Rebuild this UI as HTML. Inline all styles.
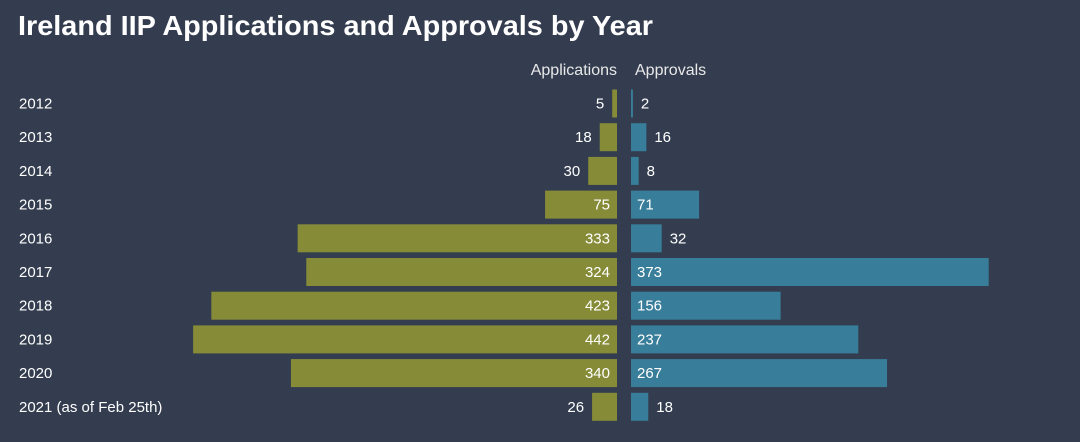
<!DOCTYPE html>
<html><head><meta charset="utf-8"><style>
body{margin:0;background:#333d4f;width:1080px;height:437px;overflow:hidden;font-family:"Liberation Sans",sans-serif}
</style></head><body>
<svg id="c" width="1080" height="437">
<text x="18" y="35" fill="#fff" font-size="28" font-weight="bold" textLength="635" lengthAdjust="spacingAndGlyphs">Ireland IIP Applications and Approvals by Year</text>
<text x="617" y="75" fill="#e8e8e8" font-size="16" text-anchor="end">Applications</text>
<text x="635" y="75" fill="#e8e8e8" font-size="16">Approvals</text>
</svg>
<script>
const years=["2012","2013","2014","2015","2016","2017","2018","2019","2020","2021 (as of Feb 25th)"];
const applications=[5,18,30,75,333,324,423,442,340,26];
const approvals=[2,16,8,71,32,373,156,237,267,18];
const svg=document.getElementById('c');
const NS="http://www.w3.org/2000/svg";
const k=0.959, x0a=617, x0b=631;
const yPos=i=>89.5+i*33.7;
function mk(t,attrs,txt){const e=document.createElementNS(NS,t);for(const a in attrs)e.setAttribute(a,attrs[a]);if(txt!=null)e.textContent=txt;svg.appendChild(e);return e;}
years.forEach((y,i)=>{
  const yy=yPos(i), ty=yy+19;
  const l=mk('text',{x:19,y:ty,fill:'#fff','font-size':15},y);
  
  
  const wa=applications[i]*k;
  const ba=mk('rect',{x:x0a-wa,y:yy,width:wa,height:28,fill:'#868b37'});
  
  
  const inA=wa>50;
  const ta=mk('text',{x:inA?x0a-7:x0a-wa-8,y:ty,fill:'#fff','font-size':15,'text-anchor':'end'},applications[i]);
  
  
  const wb=approvals[i]*k;
  const bb=mk('rect',{x:x0b,y:yy,width:wb,height:28,fill:'#387d99'});
  
  
  const inB=wb>50;
  const tb=mk('text',{x:inB?x0b+6:x0b+wb+8,y:ty,fill:'#fff','font-size':15},approvals[i]);
  
  
});
</script>
</body></html>
